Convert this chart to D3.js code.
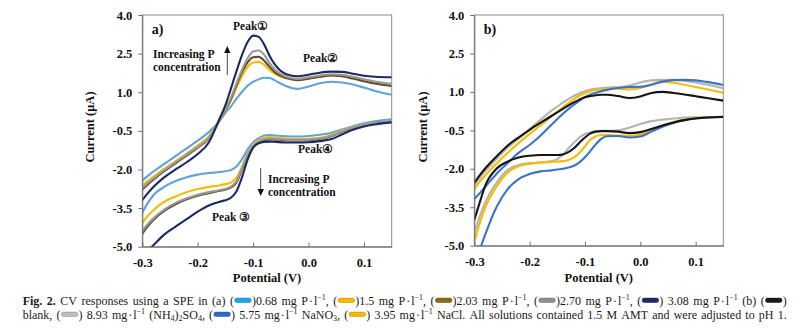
<!DOCTYPE html>
<html><head><meta charset="utf-8">
<script src="https://cdn.jsdelivr.net/npm/d3@7/dist/d3.min.js"></script>
<style>body{margin:0;background:#fff}svg{display:block}text{font-family:"Liberation Serif","Times New Roman",serif}</style>
</head><body><svg id="c" width="800" height="333"></svg>
<script>
// ---------- data ----------
const POT = [-0.30,-0.29,-0.28,-0.26,-0.24,-0.22,-0.20,-0.18,-0.16,-0.15,-0.14,-0.13,-0.12,-0.11,-0.10,-0.09,-0.08,-0.07,-0.06,-0.04,-0.02,0.00,0.02,0.04,0.06,0.08,0.10,0.12,0.15];

// panel a: forward (upper) and reverse (lower) scans
const A_068_UP = [-2.43,-2.25,-2.08,-1.78,-1.48,-1.18,-0.88,-0.55,-0.1,0.2,0.45,0.75,1.02,1.25,1.4,1.5,1.56,1.55,1.45,1.23,1.13,1.22,1.35,1.41,1.38,1.3,1.18,1.05,0.9];
const A_150_UP = [-2.62,-2.44,-2.28,-1.97,-1.68,-1.38,-1.06,-0.72,-0.07,0.28,0.68,1.18,1.62,1.98,2.15,2.18,2.06,1.86,1.7,1.54,1.48,1.53,1.6,1.66,1.63,1.55,1.45,1.36,1.25];
const A_203_UP = [-2.78,-2.58,-2.4,-2.06,-1.76,-1.46,-1.15,-0.8,-0.06,0.32,0.74,1.28,1.78,2.16,2.36,2.38,2.22,1.98,1.76,1.55,1.47,1.53,1.6,1.65,1.62,1.53,1.43,1.34,1.24];
const A_270_UP = [-2.72,-2.52,-2.35,-2.02,-1.72,-1.42,-1.12,-0.78,-0.05,0.35,0.8,1.35,1.88,2.32,2.58,2.62,2.45,2.12,1.86,1.6,1.52,1.58,1.65,1.7,1.68,1.6,1.5,1.42,1.33];
const A_308_UP = [-3.19,-2.92,-2.68,-2.3,-2.0,-1.72,-1.4,-0.95,0.0,0.5,1.15,1.82,2.45,2.95,3.2,3.15,2.85,2.4,2.05,1.7,1.62,1.68,1.76,1.8,1.79,1.72,1.64,1.6,1.58];

const A_068_DN = [-3.68,-3.3,-3.0,-2.67,-2.45,-2.3,-2.2,-2.14,-2.1,-2.07,-2.02,-1.88,-1.6,-1.22,-0.95,-0.78,-0.68,-0.66,-0.68,-0.71,-0.72,-0.7,-0.65,-0.58,-0.45,-0.32,-0.21,-0.13,-0.05];
const A_150_DN = [-4.08,-3.8,-3.58,-3.25,-3.05,-2.88,-2.76,-2.68,-2.61,-2.57,-2.5,-2.32,-1.88,-1.38,-1.06,-0.87,-0.77,-0.74,-0.76,-0.8,-0.82,-0.81,-0.77,-0.67,-0.5,-0.36,-0.26,-0.19,-0.12];
const A_203_DN = [-4.5,-4.2,-3.96,-3.6,-3.35,-3.16,-3.02,-2.92,-2.83,-2.78,-2.7,-2.5,-2.0,-1.47,-1.13,-0.95,-0.86,-0.83,-0.84,-0.86,-0.87,-0.86,-0.82,-0.72,-0.54,-0.39,-0.29,-0.21,-0.14];
const A_270_DN = [-4.4,-4.12,-3.9,-3.55,-3.3,-3.12,-2.98,-2.88,-2.8,-2.75,-2.67,-2.45,-1.95,-1.42,-1.1,-0.92,-0.83,-0.8,-0.81,-0.84,-0.85,-0.84,-0.8,-0.7,-0.52,-0.38,-0.28,-0.2,-0.13];
const A_308_DN = [-5.35,-5.15,-4.94,-4.52,-4.22,-3.93,-3.64,-3.4,-3.25,-3.2,-3.1,-2.85,-2.3,-1.62,-1.15,-0.98,-0.93,-0.92,-0.93,-0.95,-0.95,-0.94,-0.9,-0.83,-0.64,-0.46,-0.33,-0.25,-0.17];

// panel b
const B_BLANK_UP = [-2.55,-2.25,-1.98,-1.52,-1.1,-0.78,-0.48,-0.2,0.07,0.2,0.34,0.47,0.59,0.7,0.79,0.84,0.87,0.89,0.89,0.84,0.76,0.82,0.96,1.0,0.96,0.9,0.83,0.76,0.66];
const B_SO4_UP   = [-2.65,-2.35,-2.08,-1.62,-1.18,-0.82,-0.45,-0.08,0.28,0.43,0.58,0.72,0.84,0.95,1.03,1.09,1.13,1.15,1.17,1.18,1.25,1.37,1.45,1.47,1.47,1.43,1.37,1.29,1.14];
const B_NO3_UP   = [-3.18,-2.95,-2.7,-2.2,-1.78,-1.38,-1.07,-0.7,-0.27,-0.06,0.15,0.33,0.5,0.66,0.8,0.9,0.97,1.03,1.08,1.15,1.19,1.2,1.28,1.4,1.46,1.47,1.45,1.39,1.27];
const B_NACL_UP  = [-2.8,-2.5,-2.25,-1.8,-1.38,-1.0,-0.64,-0.3,0.05,0.22,0.4,0.56,0.71,0.85,0.96,1.03,1.08,1.1,1.12,1.12,1.1,1.15,1.3,1.39,1.36,1.28,1.19,1.1,0.97];

const B_BLANK_DN = [-4.0,-3.3,-2.65,-2.0,-1.72,-1.56,-1.49,-1.46,-1.46,-1.46,-1.44,-1.35,-1.2,-0.98,-0.78,-0.62,-0.55,-0.53,-0.53,-0.55,-0.61,-0.57,-0.45,-0.31,-0.19,-0.1,-0.04,0.0,0.02];
const B_SO4_DN   = [-4.5,-3.85,-3.3,-2.55,-2.05,-1.85,-1.78,-1.75,-1.7,-1.62,-1.45,-1.2,-0.98,-0.78,-0.64,-0.57,-0.53,-0.52,-0.52,-0.5,-0.4,-0.25,-0.14,-0.08,-0.04,0.0,0.01,0.02,0.03];
const B_NO3_DN   = [-5.7,-5.15,-4.55,-3.5,-2.8,-2.4,-2.2,-2.1,-2.06,-2.03,-2.0,-1.95,-1.88,-1.75,-1.55,-1.3,-1.03,-0.82,-0.73,-0.72,-0.78,-0.74,-0.55,-0.36,-0.21,-0.1,-0.03,0.0,0.03];
const B_NACL_DN  = [-4.85,-4.1,-3.5,-2.7,-2.15,-1.9,-1.8,-1.76,-1.73,-1.72,-1.7,-1.66,-1.55,-1.38,-1.12,-0.86,-0.73,-0.68,-0.68,-0.7,-0.71,-0.66,-0.5,-0.32,-0.17,-0.07,-0.02,0.01,0.03];

const Y_TICKS = [4.0, 2.5, 1.0, -0.5, -2.0, -3.5, -5.0];
const X_TICKS = [-0.3, -0.2, -0.1, 0.0, 0.1];
const Y_DOMAIN = [-5.0, 4.0];
const X_DOMAIN = [-0.3, 0.15];

const CAPTION_LINES = [
  "**Fig. 2.** CV responses using a SPE in (a) ([S0])0.68 mg P\u200a·\u200al^{−1}, ([S1])1.5 mg P\u200a·\u200al^{−1}, ([S2])2.03 mg P\u200a·\u200al^{−1}, ([S3])2.70 mg P\u200a·\u200al^{−1}, ([S4]) 3.08 mg P\u200a·\u200al^{−1} (b) ([S5])",
  "blank, ([S6]) 8.93 mg\u200a·\u200al^{−1} (NH_{4})_{2}SO_{4}, ([S7]) 5.75 mg\u200a·\u200al^{−1} NaNO_{3}, ([S8]) 3.95 mg\u200a·\u200al^{−1} NaCl. All solutions contained 1.5 M AMT and were adjusted to pH 1."
];
const SWATCH_COLORS = ["#1ea3ea","#f7b600","#8a6a14","#8f8f8f","#1b2b6c","#1a1a1a","#bdbdbd","#2b6cc0","#f7b600"];

// ---------- drawing ----------
const svg = d3.select("#c");
const FONT = '"Liberation Serif","Times New Roman",serif';

const seriesA = [
  {up: A_068_UP, dn: A_068_DN, color: "#5fa3de"},
  {up: A_150_UP, dn: A_150_DN, color: "#f6be00"},
  {up: A_203_UP, dn: A_203_DN, color: "#5f4e2c"},
  {up: A_270_UP, dn: A_270_DN, color: "#9a9a9a"},
  {up: A_308_UP, dn: A_308_DN, color: "#1b2a62"}
];
const seriesB = [
  {up: B_SO4_UP, dn: B_SO4_DN, color: "#b4b4b4"},
  {up: B_NACL_UP, dn: B_NACL_DN, color: "#f6bd00"},
  {up: B_NO3_UP, dn: B_NO3_DN, color: "#3b73c6"},
  {up: B_BLANK_UP, dn: B_BLANK_DN, color: "#151515"}
];

function drawPanel(id, box, series, label) {
  const x = d3.scaleLinear().domain(X_DOMAIN).range([box.l, box.r]);
  const y = d3.scaleLinear().domain(Y_DOMAIN).range([box.b, box.t]);
  const g = svg.append("g");

  svg.append("clipPath").attr("id", "clip" + id)
    .append("rect").attr("x", box.l).attr("y", box.t).attr("width", box.r - box.l).attr("height", box.b - box.t);

  g.append("rect").attr("x", box.l).attr("y", box.t).attr("width", box.r - box.l).attr("height", box.b - box.t)
    .attr("fill", "none").attr("stroke", "#8a8a8a").attr("stroke-width", 1);

  const line = d3.line().x((d, i) => x(POT[i])).y(d => y(d)).curve(d3.curveMonotoneX);
  const lg = g.append("g").attr("clip-path", `url(#clip${id})`);
  series.forEach(s => {
    [s.dn, s.up].forEach(arr => {
      lg.append("path").attr("d", line(arr)).attr("fill", "none")
        .attr("stroke", s.color).attr("stroke-width", 2.1).attr("stroke-linejoin", "round");
    });
  });

  const ya = g.append("g").attr("transform", `translate(${box.l},0)`)
    .call(d3.axisLeft(y).tickValues(Y_TICKS).tickFormat(d => d.toFixed(1)).tickSize(4).tickSizeOuter(0).tickPadding(6));
  const xa = g.append("g").attr("transform", `translate(0,${box.b})`)
    .call(d3.axisBottom(x).tickValues(X_TICKS).tickFormat(d => d.toFixed(1)).tickSize(-4).tickSizeOuter(0).tickPadding(11));
  [ya, xa].forEach(a => {
    a.select(".domain").attr("stroke", "#6e6e6e");
    a.selectAll(".tick line").attr("stroke", "#6e6e6e");
    a.selectAll("text").attr("font-family", FONT).attr("font-size", 12.5).attr("font-weight", "bold").attr("fill", "#111");
  });

  g.append("text").attr("x", (box.l + box.r) / 2).attr("y", 282).attr("text-anchor", "middle")
    .attr("font-size", 12.5).attr("font-weight", "bold").attr("fill", "#111").text("Potential (V)");
  g.append("text").attr("transform", `translate(${box.yt},127) rotate(-90)`).attr("text-anchor", "middle")
    .attr("dy", "0.35em").attr("font-size", 12.5).attr("font-weight", "bold").attr("fill", "#111").text("Current (μA)");
  g.append("text").attr("x", box.l + 9.5).attr("y", 34).attr("font-size", 14).attr("font-weight", "bold")
    .attr("fill", "#111").text(label);
  return {x, y, g};
}

drawPanel("a", {l: 142.3, r: 391.7, t: 15, b: 246.7, yt: 90}, seriesA, "a)");
drawPanel("b", {l: 474.3, r: 723.3, t: 15, b: 245.7, yt: 423}, seriesB, "b)");

function ann(txt, x, yb, size) {
  svg.append("text").attr("x", x).attr("y", yb).attr("font-size", size || 11.5).attr("font-weight", "bold")
    .attr("fill", "#111").text(txt);
}
ann("Peak①", 233, 30);
ann("Peak②", 303, 62);
ann("Increasing P", 153, 58);
ann("concentration", 153, 71);
ann("Peak④", 298, 153);
ann("Increasing P", 268, 183);
ann("concentration", 268, 196);
ann("Peak ③", 212, 221);

function arrow(x, y0, y1) {
  const dir = y1 < y0 ? 1 : -1;
  svg.append("line").attr("x1", x).attr("x2", x).attr("y1", y0).attr("y2", y1 + dir * 6)
    .attr("stroke", "#333").attr("stroke-width", 0.9);
  svg.append("path").attr("d", `M${x},${y1} L${x - 3.2},${y1 + dir * 7} L${x + 3.2},${y1 + dir * 7} Z`).attr("fill", "#111");
}
arrow(227.3, 75, 46);
arrow(260.7, 168, 196);

// caption (justified)
const CAP_X = 22.7, CAP_W = 764, CAP_Y = [304.5, 318.5];
CAPTION_LINES.forEach((lineStr, li) => {
  const words = lineStr.split(" ");
  let bold = false;
  const items = [];
  words.forEach(w => {
    const g = svg.append("g");
    let cx = 0;
    w.split(/(\*\*|\[S\d\]|\^\{[^}]*\}|_\{[^}]*\})/).forEach(p => {
      if (!p) return;
      if (p === "**") { bold = !bold; return; }
      const m = p.match(/^\[S(\d)\]$/);
      if (m) {
        const c = SWATCH_COLORS[+m[1]];
        g.append("rect").attr("x", cx + 0.8).attr("y", -6.4).attr("width", 16.5).attr("height", 4.4).attr("rx", 2)
          .attr("fill", c).attr("stroke", d3.color(c).darker(0.8)).attr("stroke-width", 0.5);
        cx += 18; return;
      }
      let txt = p, size = 12, dy = 0;
      if (p.startsWith("^{")) { txt = p.slice(2, -1); size = 8; dy = -4.6; }
      else if (p.startsWith("_{")) { txt = p.slice(2, -1); size = 8; dy = 2.8; }
      const t = g.append("text").attr("x", cx).attr("y", dy).attr("font-size", size)
        .attr("font-weight", bold ? "bold" : "normal").attr("fill", "#1a1a1a").text(txt);
      cx += t.node().getComputedTextLength();
    });
    items.push({g, w: cx});
  });
  const total = d3.sum(items, d => d.w);
  const gap = Math.max(2, (CAP_W - total) / (items.length - 1));
  let xx = CAP_X;
  items.forEach(o => { o.g.attr("transform", `translate(${xx},${CAP_Y[li]})`); xx += o.w + gap; });
});
</script></body></html>
